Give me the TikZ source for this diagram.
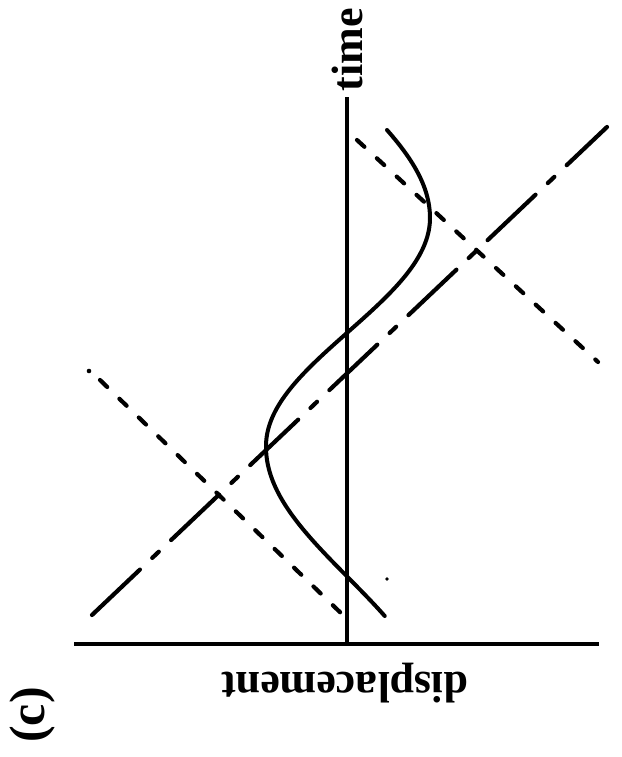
\documentclass[tikz,border=0pt]{standalone}
\usepackage{fontspec}
\setmainfont{Liberation Serif}
\begin{document}
\begin{tikzpicture}[x=1pt,y=-1pt,
  ax/.style={line width=4pt},
  curve/.style={line width=4pt, line cap=round, line join=round},
  sdash/.style={line width=4.2pt, line cap=round, dash pattern=on 10pt off 17pt},
  ldash/.style={line width=4.2pt, line cap=round, dash pattern=on 66pt off 17pt on 9pt off 17pt},
  lab/.style={inner sep=0pt, font=\bfseries\fontsize{44}{44}\selectfont}]
\useasboundingbox (0,0) rectangle (621,757);
\fill[white] (0,0) rectangle (621,757);
% axes
\coordinate (O) at (347,644);
\coordinate (T) at (347,97);
\coordinate (L) at (74,644);
\coordinate (R) at (599,644);
\draw[ax] (L) -- (R);
\draw[ax] (O) -- (T);
% labels
\node[lab, rotate=90, anchor=base] (time) at (362,50) {time};
\node[lab, rotate=180, anchor=base] (disp) at (345,672) {displacement};
\node[lab, font=\bfseries\fontsize{50}{50}\selectfont, rotate=90, anchor=base] (c) at (44,715) {(c)};
% long dash-dot line
\coordinate (C1) at (92,615);
\coordinate (C2) at (607,127);
\draw[ldash] (C1) -- (C2);
% short dashed lines
\coordinate (A0) at (89,371);
\coordinate (A1) at (100,380);
\coordinate (A2) at (345,617);
\fill (A0) circle (2.3pt);
\draw[sdash] (A1) -- (A2);
\coordinate (B1) at (357,140);
\coordinate (B2) at (598,362);
\draw[sdash] (B1) -- (B2);
% speck
\coordinate (S) at (387,579);
\fill (S) circle (1.8pt);
% solid curve (sine-like, time running downwards in the picture)
\draw[curve] plot[domain=130:616, samples=160, variable=\t]
  ({348+82*sin((\t<218) ? (90+0.70*(218-\t)) : ((\t<447) ? (0.789*(332-\t)) : (-90-0.69*(\t-447))))}, \t);
\end{tikzpicture}
\end{document}
